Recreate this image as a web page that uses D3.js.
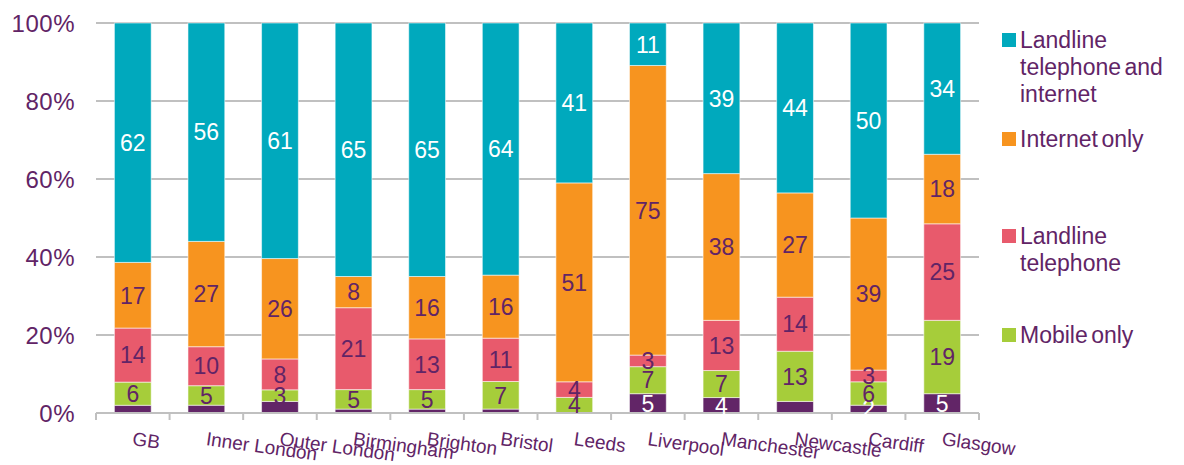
<!DOCTYPE html>
<html>
<head>
<meta charset="utf-8">
<script src="https://cdn.jsdelivr.net/npm/d3@7"></script>
<style>
  html, body { margin: 0; padding: 0; background: #fff; }
  svg text { font-family: "Liberation Sans", Arial, sans-serif; }
</style>
</head>
<body>
<svg id="chart" width="1184" height="465"></svg>
<script>
// Household connection type by area (percent of households)
const categories = ["GB", "Inner London", "Outer London", "Birmingham", "Brighton", "Bristol",
  "Leeds", "Liverpool", "Manchester", "Newcastle", "Cardiff", "Glasgow"];
const neitherVals   = [2, 2, 3, 1, 1, 1, 0, 5, 4, 3, 2, 5];
const mobileOnly    = [6, 5, 3, 5, 5, 7, 4, 7, 7, 13, 6, 19];
const landlineTel   = [14, 10, 8, 21, 13, 11, 4, 3, 13, 14, 3, 25];
const internetOnly  = [17, 27, 26, 8, 16, 16, 51, 75, 38, 27, 39, 18];
const landlineAndNet = [62, 56, 61, 65, 65, 64, 41, 11, 39, 44, 50, 34];
// areas whose "neither" segment carries a value label
const neitherLabelled = ["Liverpool", "Manchester", "Cardiff", "Glasgow"];
const yTicks = [0, 0.2, 0.4, 0.6, 0.8, 1];

const series = [
  { key: "neither", name: "Neither", values: neitherVals, color: "#622567", text: "#ffffff", legend: null },
  { key: "mobile", name: "Mobile only", values: mobileOnly, color: "#a6cd3a", text: "#612466", legend: ["Mobile only"] },
  { key: "landline", name: "Landline telephone", values: landlineTel, color: "#e85a6c", text: "#612466", legend: ["Landline", "telephone"] },
  { key: "internet", name: "Internet only", values: internetOnly, color: "#f7941f", text: "#612466", legend: ["Internet only"] },
  { key: "both", name: "Landline telephone and internet", values: landlineAndNet, color: "#00a9bd", text: "#ffffff", legend: ["Landline", "telephone and", "internet"] }
];

const rows = categories.map((c, i) => {
  const r = { category: c };
  series.forEach(s => { r[s.key] = s.values[i]; });
  return r;
});

const stack = d3.stack()
  .keys(series.map(s => s.key))
  .offset(d3.stackOffsetExpand);
const stacked = stack(rows);

const svg = d3.select("#chart");
const textColor = "#612466";
const gridColor = "#c0c0c0";

const x = d3.scaleBand().domain(categories).range([96, 979]).paddingInner(0.5).paddingOuter(0.25);
const y = d3.scaleLinear().domain([0, 1]).range([413, 23]);

// horizontal gridlines
svg.append("g")
  .selectAll("line")
  .data(yTicks.filter(t => t > 0))
  .join("line")
  .attr("x1", 96).attr("x2", 979)
  .attr("y1", d => y(d)).attr("y2", d => y(d))
  .attr("stroke", gridColor).attr("stroke-width", 2);

// y axis labels
const yAxis = svg.append("g")
  .attr("transform", "translate(96,0)")
  .call(d3.axisLeft(y).tickValues(yTicks).tickFormat(d3.format(".0%")).tickSize(0).tickPadding(21));
yAxis.select(".domain").remove();
yAxis.selectAll("text").attr("fill", textColor).style("font-size", "24px")
  .style("letter-spacing", "0.5px").attr("dy", "0.35em");

// stacked bars
const layers = svg.append("g").selectAll("g")
  .data(stacked)
  .join("g")
  .attr("fill", (d, i) => series[i].color);

layers.selectAll("rect")
  .data(d => d)
  .join("rect")
  .attr("x", d => x(d.data.category))
  .attr("width", x.bandwidth())
  .attr("y", d => y(d[1]))
  .attr("height", d => Math.max(0, y(d[0]) - y(d[1])))
  .attr("stroke", "rgba(255,255,255,0.55)")
  .attr("stroke-width", 1);

// x axis baseline and category ticks
const xAxis = svg.append("g").attr("transform", `translate(0,${y(0)})`);
xAxis.append("line")
  .attr("x1", 96).attr("x2", 979)
  .attr("stroke", gridColor).attr("stroke-width", 2);
const boundaries = categories.map(c => x(c) - x.step() * 0.25).concat([979]);
xAxis.selectAll("line.tick")
  .data(boundaries)
  .join("line")
  .attr("class", "tick")
  .attr("x1", d => d).attr("x2", d => d)
  .attr("y1", 0).attr("y2", 7)
  .attr("stroke", gridColor).attr("stroke-width", 2);

// rotated category labels
svg.append("g").selectAll("text")
  .data(categories)
  .join("text")
  .attr("transform", c => `translate(${x(c) + x.bandwidth() / 2 - 1},445) rotate(8)`)
  .attr("text-anchor", "start")
  .attr("fill", textColor)
  .style("font-size", "19px")
  .text(c => c);

// value labels
stacked.forEach((layer, i) => {
  const s = series[i];
  svg.append("g").selectAll("text")
    .data(layer.filter((d, j) => s.values[j] > 0 &&
      (s.key !== "neither" || neitherLabelled.includes(d.data.category))))
    .join("text")
    .attr("x", d => x(d.data.category) + x.bandwidth() / 2)
    .attr("y", d => (y(d[0]) + y(d[1])) / 2)
    .attr("dy", "0.36em")
    .attr("text-anchor", "middle")
    .attr("fill", s.text)
    .style("font-size", "23px")
    .text(d => d.data[s.key]);
});

// legend
const legendItems = [
  { s: series[4], top: 33 },
  { s: series[3], top: 132 },
  { s: series[2], top: 229 },
  { s: series[1], top: 328 }
];
const legend = svg.append("g").selectAll("g")
  .data(legendItems)
  .join("g")
  .attr("transform", d => `translate(1002,${d.top})`);
legend.append("rect")
  .attr("width", 14).attr("height", 14)
  .attr("fill", d => d.s.color);
legend.append("text")
  .attr("x", 18)
  .attr("y", 15)
  .attr("fill", textColor)
  .style("font-size", "23px")
  .style("word-spacing", "-3px")
  .selectAll("tspan")
  .data(d => d.s.legend)
  .join("tspan")
  .attr("x", 18)
  .attr("dy", (d, i) => i === 0 ? 0 : 27)
  .text(d => d);
</script>
</body>
</html>
